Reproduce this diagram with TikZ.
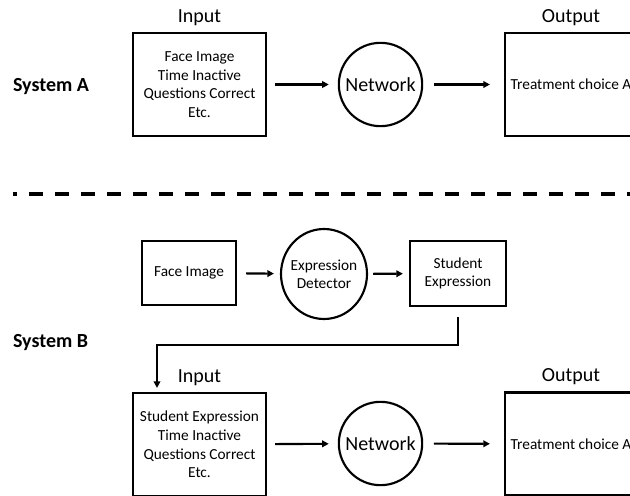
\documentclass[tikz,border=0pt]{standalone}
\usepackage{fontspec}
\setmainfont{Carlito}
\usetikzlibrary{arrows.meta,positioning,shapes.geometric}

\begin{document}
\begin{tikzpicture}[
  x=0.75pt, y=-0.75pt,
  line width=1.6pt,
  box/.style={draw, rectangle, align=center, inner sep=0pt,
    font=\fontsize{11.5}{13.9}\selectfont},
  netw/.style={draw, circle, minimum size=62.5pt, inner sep=0pt,
    font=\fontsize{15}{18}\selectfont},
  lbl/.style={inner sep=0pt, font=\fontsize{15}{18}\selectfont},
  sys/.style={anchor=base west, inner sep=0pt,
    font=\bfseries\fontsize{15}{18}\selectfont},
  flow/.style={-{Triangle[length=5pt,width=5pt]}}
]
\useasboundingbox (0,0) rectangle (630,495);
\clip (0,0) rectangle (630,495);

% system A
\node[sys] (sysA) at (12,92) {System A};
\node[box, minimum width=99.75pt, minimum height=77.25pt] (inA) at (199.5,84.5)
  {Face Image\\Time Inactive\\Questions Correct\\Etc.};
\node[netw] (netA) at (380.5,84.5) {Network};
\node[box, minimum width=99pt, minimum height=77.25pt] (outA) at (571,84.5)
  {Treatment choice A};
\node[lbl, above=4pt of inA] (inlblA) {Input};
\node[lbl, above=4pt of outA] (outlblA) {Output};

\draw[flow, shorten <=6pt, shorten >=6.75pt] (inA) -- (netA);
\draw[flow, shorten <=8pt, shorten >=10.5pt] (netA) -- (outA);

\draw[line width=3pt, dash pattern=on 10.5pt off 9pt, dash phase=7.5pt]
  (13,194) -- (630,194);

% system B
\node[sys] (sysB) at (12,347) {System B};
\node[box, minimum width=70.5pt, minimum height=48pt] (face) at (189,273)
  {Face Image};
\node[draw, ellipse, minimum width=64.5pt, minimum height=67.5pt, inner sep=-2.5pt,
  align=center, font=\fontsize{11.5}{13.5}\selectfont] (det) at (324,274)
  {Expression\\Detector};
\node[box, minimum width=72pt, minimum height=48.75pt] (stu) at (458,273.5)
  {Student\\Expression};

\draw[flow, shorten <=6.75pt, shorten >=4.5pt] (face) -- (det);
\draw[flow, shorten <=3.75pt, shorten >=4.5pt] (det) -- (stu);

\node[box, minimum width=99.75pt, minimum height=77.25pt] (inB) at (199.5,444.5)
  {Student Expression\\Time Inactive\\Questions Correct\\Etc.};
\node[netw] (netB) at (380.5,443.5) {Network};
\node[box, minimum width=99pt, minimum height=77.25pt] (outB) at (571,444)
  {Treatment choice A};
\node[lbl, above=4pt of inB] (inlblB) {Input};
\node[lbl, above=4pt of outB] (outlblB) {Output};

\coordinate (bend) at (157,345);
\draw[flow, shorten <=7.5pt, shorten >=3pt] (stu.south) |- (bend) -- (bend |- inB.north);

\draw[flow, shorten <=6pt, shorten >=6.75pt] (inB) -- (netB);
\draw[flow, shorten <=8pt, shorten >=10.5pt] (netB) -- (outB);
\end{tikzpicture}
\end{document}
